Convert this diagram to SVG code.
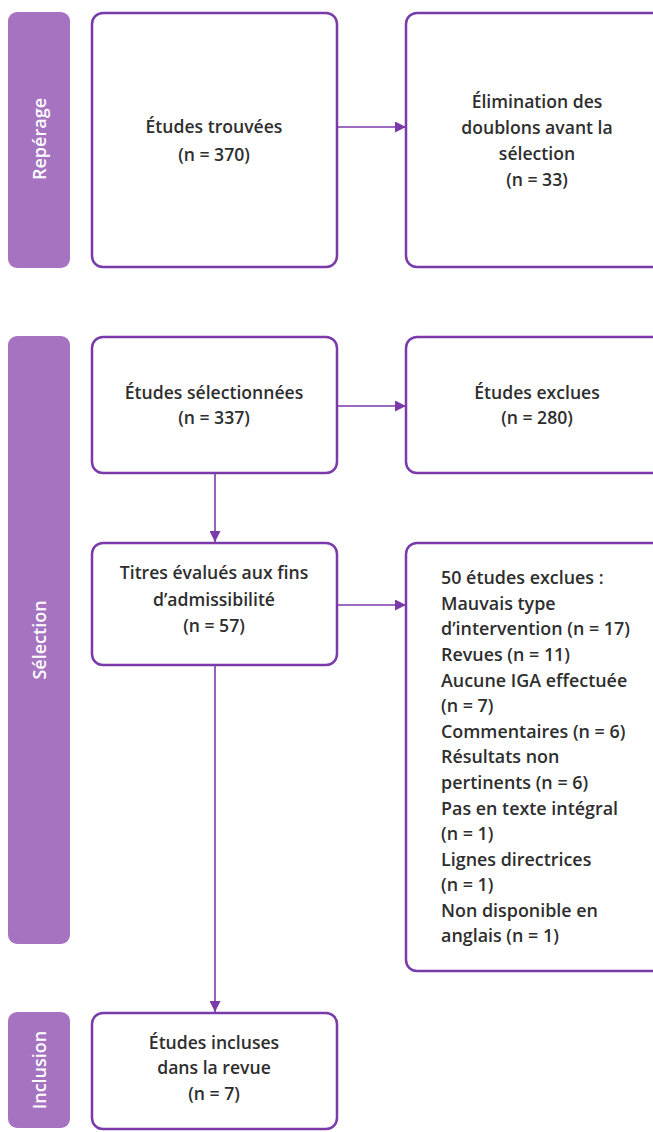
<svg xmlns="http://www.w3.org/2000/svg" width="653" height="1132" viewBox="0 0 653 1132">
  <defs>
    <marker id="arrow" viewBox="0 0 10 10" refX="10" refY="5" markerWidth="15" markerHeight="11" markerUnits="userSpaceOnUse" orient="auto">
      <path d="M0,0 L10,5 L0,10 z" fill="#7b3aaa"/>
    </marker>
    <style>
      .phase { fill: #a673c1; }
      .phase-label { fill: #ffffff; font-family: "Open Sans", "Liberation Sans", sans-serif; font-size: 18px; font-weight: 600; text-anchor: middle; dominant-baseline: central; }
      .box { fill: #ffffff; stroke: #7b3aaa; stroke-width: 2.5; }
      .label { fill: #2e2e2e; font-family: "Open Sans", "Liberation Sans", sans-serif; font-size: 17.6px; font-weight: 600; text-anchor: middle; }
      .list { fill: #2e2e2e; font-family: "Open Sans", "Liberation Sans", sans-serif; font-size: 17.9px; font-weight: 600; }
      .conn { fill: none; stroke: #7b3aaa; stroke-width: 1.6; marker-end: url(#arrow); }
    </style>
  </defs>

  <!-- phase bars -->
  <g id="phase-reperage">
    <rect class="phase" x="8" y="12" width="62" height="256" rx="9"/>
    <text class="phase-label" transform="translate(39,139) rotate(-90)">Repérage</text>
  </g>
  <g id="phase-selection">
    <rect class="phase" x="8" y="336" width="62" height="608" rx="9"/>
    <text class="phase-label" transform="translate(39,640) rotate(-90)">Sélection</text>
  </g>
  <g id="phase-inclusion">
    <rect class="phase" x="8" y="1012" width="62" height="116" rx="9"/>
    <text class="phase-label" transform="translate(39,1070) rotate(-90)">Inclusion</text>
  </g>

  <!-- connectors -->
  <g id="connectors">
    <line class="conn" x1="337" y1="127" x2="406" y2="127"/>
    <line class="conn" x1="337" y1="406" x2="406" y2="406"/>
    <line class="conn" x1="215" y1="474" x2="215" y2="542"/>
    <line class="conn" x1="337" y1="605" x2="406" y2="605"/>
    <line class="conn" x1="215" y1="666" x2="215" y2="1012"/>
  </g>

  <!-- nodes -->
  <g id="etudes-trouvees">
    <rect class="box" x="92" y="13" width="245" height="254" rx="11"/>
    <text class="label" x="214" y="133">Études trouvées</text>
    <text class="label" x="214" y="161">(n = 370)</text>
  </g>
  <g id="elimination-doublons">
    <rect class="box" x="406" y="13" width="258" height="254" rx="11"/>
    <text class="label" x="537" y="108">Élimination des</text>
    <text class="label" x="537" y="134">doublons avant la</text>
    <text class="label" x="537" y="160">sélection</text>
    <text class="label" x="537" y="186">(n = 33)</text>
  </g>
  <g id="etudes-selectionnees">
    <rect class="box" x="92" y="337" width="245" height="136" rx="11"/>
    <text class="label" x="214" y="399">Études sélectionnées</text>
    <text class="label" x="214" y="424">(n = 337)</text>
  </g>
  <g id="etudes-exclues">
    <rect class="box" x="406" y="337" width="258" height="136" rx="11"/>
    <text class="label" x="537" y="399">Études exclues</text>
    <text class="label" x="537" y="424">(n = 280)</text>
  </g>
  <g id="titres-evalues">
    <rect class="box" x="92" y="543" width="245" height="122" rx="11"/>
    <text class="label" x="214" y="579">Titres évalués aux fins</text>
    <text class="label" x="214" y="606">d’admissibilité</text>
    <text class="label" x="214" y="632">(n = 57)</text>
  </g>
  <g id="etudes-exclues-50">
    <rect class="box" x="406" y="543" width="258" height="428" rx="11"/>
    <text class="list" x="441" y="584">50 études exclues :</text>
    <text class="list" x="441" y="610">Mauvais type</text>
    <text class="list" x="441" y="635">d’intervention (n = 17)</text>
    <text class="list" x="441" y="661">Revues (n = 11)</text>
    <text class="list" x="441" y="687">Aucune IGA effectuée</text>
    <text class="list" x="441" y="712">(n = 7)</text>
    <text class="list" x="441" y="738">Commentaires (n = 6)</text>
    <text class="list" x="441" y="763">Résultats non</text>
    <text class="list" x="441" y="789">pertinents (n = 6)</text>
    <text class="list" x="441" y="815">Pas en texte intégral</text>
    <text class="list" x="441" y="840">(n = 1)</text>
    <text class="list" x="441" y="866">Lignes directrices</text>
    <text class="list" x="441" y="891">(n = 1)</text>
    <text class="list" x="441" y="917">Non disponible en</text>
    <text class="list" x="441" y="942">anglais (n = 1)</text>
  </g>
  <g id="etudes-incluses">
    <rect class="box" x="92" y="1013" width="245" height="116" rx="11"/>
    <text class="label" x="214" y="1049">Études incluses</text>
    <text class="label" x="214" y="1074">dans la revue</text>
    <text class="label" x="214" y="1100">(n = 7)</text>
  </g>
</svg>
